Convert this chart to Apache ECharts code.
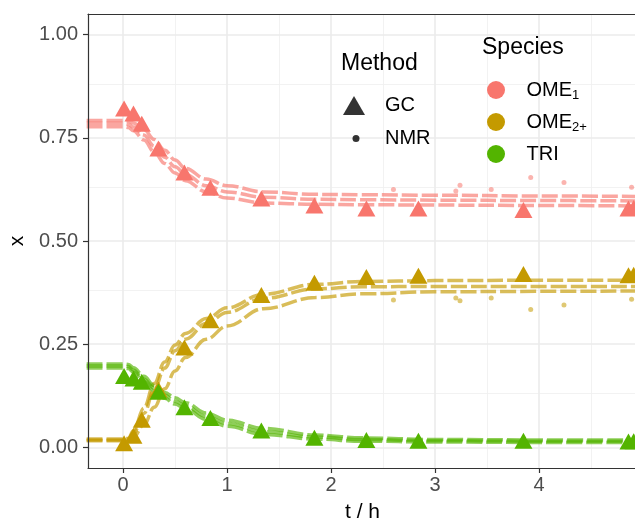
<!DOCTYPE html>
<html>
<head>
<meta charset="utf-8">
<title>OME reaction kinetics</title>
<script src="https://cdn.jsdelivr.net/npm/echarts@6/dist/echarts.min.js"></script>
<style>
  html, body { margin: 0; padding: 0; background: #fff; }
  #chart { width: 635px; height: 523px; }
</style>
</head>
<body>
<div id="chart"></div>
<script>
// ---- data ----
const speciesNames = ['OME1', 'OME2+', 'TRI']
const speciesColors = ['#F8766D', '#C49A00', '#53B400']

const xTicks = [0, 1, 2, 3, 4]
const yTicks = [0, 0.25, 0.5, 0.75, 1]
const yTickLabels = ['0.00', '0.25', '0.50', '0.75', '1.00']

// NMR runs (three per species), sampled at these times (h)
const nmrTime = [-0.35, 0, 0.05, 0.1, 0.2, 0.3, 0.4, 0.5, 0.6, 0.8, 1.0, 1.35, 1.85, 2.3, 3.0, 4.0, 4.95]
const ome1NmrA = [0.792, 0.792, 0.791, 0.786, 0.770, 0.746, 0.720, 0.696, 0.676, 0.650, 0.634, 0.619, 0.613, 0.612, 0.611, 0.609, 0.608]
const ome1NmrB = [0.785, 0.785, 0.783, 0.776, 0.757, 0.730, 0.703, 0.680, 0.661, 0.634, 0.619, 0.606, 0.601, 0.600, 0.599, 0.598, 0.597]
const ome1NmrC = [0.777, 0.777, 0.775, 0.767, 0.745, 0.716, 0.688, 0.665, 0.646, 0.619, 0.604, 0.592, 0.589, 0.588, 0.587, 0.586, 0.585]
const ome2NmrA = [0.020, 0.020, 0.022, 0.040, 0.095, 0.155, 0.207, 0.248, 0.276, 0.312, 0.338, 0.371, 0.395, 0.402, 0.404, 0.405, 0.405]
const ome2NmrB = [0.018, 0.018, 0.020, 0.034, 0.082, 0.140, 0.192, 0.234, 0.262, 0.300, 0.327, 0.361, 0.384, 0.389, 0.390, 0.390, 0.390]
const ome2NmrC = [0.016, 0.016, 0.017, 0.025, 0.055, 0.097, 0.142, 0.185, 0.218, 0.262, 0.294, 0.336, 0.363, 0.372, 0.377, 0.378, 0.379]
const triNmrA = [0.202, 0.202, 0.201, 0.193, 0.172, 0.150, 0.133, 0.120, 0.108, 0.083, 0.066, 0.046, 0.030, 0.023, 0.019, 0.018, 0.018]
const triNmrB = [0.197, 0.197, 0.196, 0.187, 0.165, 0.143, 0.126, 0.112, 0.100, 0.075, 0.058, 0.038, 0.025, 0.019, 0.016, 0.015, 0.015]
const triNmrC = [0.192, 0.192, 0.191, 0.182, 0.159, 0.137, 0.119, 0.105, 0.093, 0.068, 0.051, 0.031, 0.020, 0.015, 0.013, 0.012, 0.012]

// scattered single NMR points (same times for OME1 and OME2+)
const nmrOutTime = [2.60, 3.20, 3.24, 3.54, 3.92, 4.24, 4.89]
const ome1NmrOut = [0.625, 0.621, 0.635, 0.625, 0.654, 0.642, 0.630]
const ome2NmrOut = [0.357, 0.362, 0.355, 0.362, 0.334, 0.345, 0.359]

// GC samples
const gcTime = [0.01, 0.10, 0.18, 0.34, 0.59, 0.84, 1.33, 1.84, 2.34, 2.84, 3.85, 4.86, 4.91]
const gcOme1 = [0.821, 0.809, 0.784, 0.724, 0.666, 0.629, 0.603, 0.586, 0.579, 0.579, 0.575, 0.579, 0.580]
const gcOme2 = [0.010, 0.028, 0.067, 0.140, 0.242, 0.308, 0.369, 0.399, 0.413, 0.416, 0.420, 0.417, 0.418]
const gcTri = [0.173, 0.167, 0.159, 0.135, 0.097, 0.071, 0.041, 0.023, 0.018, 0.016, 0.016, 0.014, 0.015]

// ---- helpers ----
const zip = (xs, ys) => xs.map((x, i) => [x, ys[i]])
const FONT = 'Liberation Sans, Arial, sans-serif'

const nmrRuns = [
  [ome1NmrA, ome1NmrB, ome1NmrC],
  [ome2NmrA, ome2NmrB, ome2NmrC],
  [triNmrA, triNmrB, triNmrC]
]
const gcRuns = [gcOme1, gcOme2, gcTri]
const outRuns = [ome1NmrOut, ome2NmrOut, null]

// background grid lines (theme_bw look), drawn through the axes
const yMinor = [0.125, 0.375, 0.625, 0.875]
const xMinor = [0.5, 1.5, 2.5, 3.5, 4.5]
const major = { color: '#EBEBEB', width: 1.6, type: 'solid' }
const minor = { color: '#EFEFEF', width: 0.8, type: 'solid' }

const series = []

series.push({
  name: 'grid',
  type: 'line',
  data: [],
  silent: true,
  markLine: {
    z: 1,
    silent: true,
    animation: false,
    symbol: ['none', 'none'],
    label: { show: false },
    data: [
      ...yMinor.map(v => ({ yAxis: v, lineStyle: minor })),
      ...xMinor.map(v => ({ xAxis: v, lineStyle: minor })),
      ...yTicks.map(v => ({ yAxis: v, lineStyle: major })),
      ...xTicks.map(v => ({ xAxis: v, lineStyle: major }))
    ]
  }
})

// GC triangles first so the species legend takes its colour from them
speciesNames.forEach((name, i) => {
  series.push({
    name: name,
    type: 'scatter',
    z: 4,
    symbol: 'triangle',
    symbolSize: [18, 16],
    itemStyle: { color: speciesColors[i], opacity: 1 },
    data: zip(gcTime, gcRuns[i])
  })
})

speciesNames.forEach((name, i) => {
  nmrRuns[i].forEach(run => {
    series.push({
      name: name,
      type: 'line',
      z: 2,
      smooth: 0.4,
      smoothMonotone: 'x',
      showSymbol: false,
      color: speciesColors[i],
      lineStyle: { width: 3.5, type: [16, 4], opacity: 0.65, color: speciesColors[i] },
      data: zip(nmrTime, run)
    })
  })
  if (outRuns[i]) {
    series.push({
      name: name,
      type: 'scatter',
      z: 2,
      symbolSize: 5,
      itemStyle: { color: speciesColors[i], opacity: 0.55 },
      data: zip(nmrOutTime, outRuns[i])
    })
  }
})

// legend-only entries for the measurement method
series.push({ name: 'GC', type: 'scatter', data: [], itemStyle: { color: '#000' } })
series.push({ name: 'NMR', type: 'scatter', data: [], itemStyle: { color: '#000' } })

const richLabel = {
  t: { fontSize: 20, lineHeight: 24, color: '#000', fontFamily: FONT },
  m: { fontSize: 20, lineHeight: 24, color: '#000', fontFamily: FONT },
  s: { fontSize: 13, lineHeight: 8, color: '#000', fontFamily: FONT, verticalAlign: 'bottom' }
}

const speciesLabel = name => {
  if (name === 'OME1') return '{m|OME}{s|1}'
  if (name === 'OME2+') return '{m|OME}{s|2+}'
  return '{m|' + name + '}'
}

const chart = echarts.init(document.getElementById('chart'))

const option = {
  animation: false,
  backgroundColor: '#fff',
  textStyle: { fontFamily: FONT },
  grid: {
    left: 88,
    top: 14,
    width: 549,
    height: 454,
    outerBoundsMode: 'none',
    containLabel: false,
    show: true,
    backgroundColor: '#fff',
    borderWidth: 0
  },
  xAxis: [
    {
      type: 'value',
      min: -0.337,
      max: 4.942,
      z: 5,
      name: 't / h',
      nameLocation: 'middle',
      nameGap: 34,
      nameTextStyle: { fontSize: 21, color: '#000', fontFamily: FONT },
      splitLine: { show: false },
      axisLine: { show: true, onZero: false, lineStyle: { color: '#333', width: 1.2 } },
      axisTick: { show: true, length: 5, customValues: xTicks, lineStyle: { color: '#333', width: 1.2 } },
      axisLabel: { customValues: xTicks, margin: 7, fontSize: 20, color: '#4D4D4D', fontFamily: FONT }
    },
    {
      type: 'value',
      position: 'top',
      min: -0.337,
      max: 4.942,
      z: 5,
      splitLine: { show: false },
      axisLine: { show: true, onZero: false, lineStyle: { color: '#333', width: 1.2 } },
      axisTick: { show: false },
      axisLabel: { show: false }
    }
  ],
  yAxis: {
    type: 'value',
    min: -0.05,
    max: 1.05,
    z: 5,
    name: 'x',
    nameLocation: 'middle',
    nameGap: 55,
    nameTextStyle: { fontSize: 21, color: '#000', fontFamily: FONT },
    splitLine: { show: false },
    axisLine: { show: true, onZero: false, lineStyle: { color: '#333', width: 1.2 } },
    axisTick: { show: true, length: 5, customValues: yTicks, lineStyle: { color: '#333', width: 1.2 } },
    axisLabel: {
      customValues: yTicks,
      margin: 10,
      fontSize: 20,
      color: '#4D4D4D',
      fontFamily: FONT,
      formatter: v => yTickLabels[yTicks.indexOf(v)] ?? v.toFixed(2)
    }
  },
  legend: [
    {
      data: [{ name: 'GC', icon: 'triangle' }],
      left: 343, top: 95.5, padding: 0,
      itemWidth: 22, itemHeight: 19,
      selectedMode: false,
      formatter: '{t|{name}}',
      textStyle: { rich: { t: Object.assign({}, richLabel.t, { padding: [0, 0, 0, 15] }) } }
    },
    {
      data: [{ name: 'NMR', icon: 'circle' }],
      left: 352.5, top: 128.5, padding: 0,
      itemWidth: 26, itemHeight: 7,
      selectedMode: false,
      formatter: '{t|{name}}',
      textStyle: { rich: { t: Object.assign({}, richLabel.t, { padding: [0, 0, 0, 11] }) } }
    },
    {
      data: speciesNames.map(n => ({ name: n, icon: 'circle' })),
      orient: 'vertical',
      left: 487, top: 80, padding: 0,
      itemWidth: 51, itemHeight: 18, itemGap: 10,
      selectedMode: false,
      formatter: speciesLabel,
      textStyle: { rich: richLabel }
    }
  ],
  graphic: [
    {
      type: 'text', left: 341, top: 52, z: 10,
      style: { text: 'Method', font: '23px ' + FONT, fill: '#000' }
    },
    {
      type: 'text', left: 482, top: 36, z: 10,
      style: { text: 'Species', font: '23px ' + FONT, fill: '#000' }
    }
  ],
  series: series
}

chart.setOption(option)
</script>
</body>
</html>
